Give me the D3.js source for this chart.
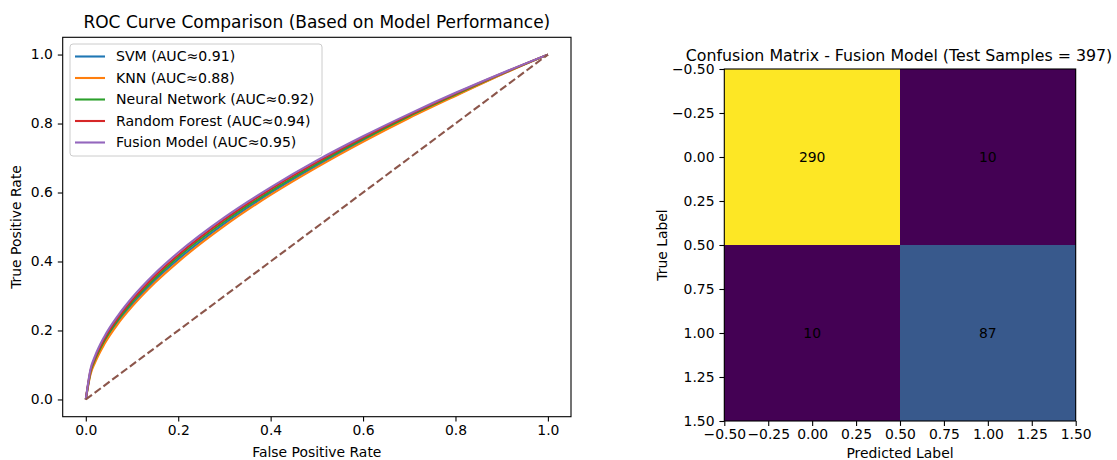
<!DOCTYPE html>
<html>
<head>
<meta charset="utf-8">
<script src="https://cdn.jsdelivr.net/npm/d3@7"></script>
<style>
  body { margin: 0; background: #fff; }
  svg { display: block; font-family: "DejaVu Sans", sans-serif; }
</style>
</head>
<body>
<svg id="chart" width="1117" height="460"></svg>
<script>
// ROC curves (fpr grid shared by all models)
const fprPoints = [0, 0.01, 0.02, 0.04, 0.07, 0.1, 0.15, 0.2, 0.3, 0.4, 0.5, 0.6, 0.7, 0.8, 0.9, 1];
const svmTpr    = [0, 0.076, 0.112, 0.165, 0.226, 0.275, 0.346, 0.406, 0.510, 0.599, 0.678, 0.751, 0.819, 0.882, 0.943, 1];
const knnTpr    = [0, 0.072, 0.107, 0.160, 0.220, 0.269, 0.339, 0.399, 0.503, 0.593, 0.673, 0.747, 0.816, 0.880, 0.942, 1];
const nnTpr     = [0, 0.079, 0.116, 0.170, 0.232, 0.282, 0.352, 0.413, 0.516, 0.604, 0.683, 0.755, 0.822, 0.884, 0.944, 1];
const rfTpr     = [0, 0.083, 0.121, 0.176, 0.238, 0.288, 0.359, 0.419, 0.522, 0.610, 0.688, 0.759, 0.825, 0.887, 0.945, 1];
const fusionTpr = [0, 0.087, 0.126, 0.182, 0.244, 0.295, 0.366, 0.426, 0.528, 0.615, 0.693, 0.763, 0.828, 0.889, 0.946, 1];

const modelNames = ["SVM (AUC≈0.91)", "KNN (AUC≈0.88)", "Neural Network (AUC≈0.92)", "Random Forest (AUC≈0.94)", "Fusion Model (AUC≈0.95)"];
const modelColors = ["#1f77b4", "#ff7f0e", "#2ca02c", "#d62728", "#9467bd"];
const modelTpr = [svmTpr, knnTpr, nnTpr, rfTpr, fusionTpr];

const rocTicks = [0, 0.2, 0.4, 0.6, 0.8, 1.0];

// confusion matrix of the fusion model
const classIdx = [0, 1];
const cmValues = [[290, 10], [10, 87]];
const cmTicks = [-0.5, -0.25, 0, 0.25, 0.5, 0.75, 1, 1.25, 1.5];

const svg = d3.select("#chart");
const fmt1 = d => d3.format(".1f")(d).replace("-", "\u2212");
const fmt2 = d => d3.format(".2f")(d).replace("-", "\u2212");

function styleAxis(g) {
    g.selectAll(".domain").remove();
    g.selectAll(".tick line").attr("stroke", "#000").attr("stroke-width", 1.1);
    g.selectAll(".tick text").attr("fill", "#000").style("font-size", "13.9px").style("font-family", "DejaVu Sans");
}

function frame(g, x0, y0, w, h) {
    g.append("rect")
        .attr("x", x0).attr("y", y0).attr("width", w).attr("height", h)
        .attr("fill", "none").attr("stroke", "#000").attr("stroke-width", 1.1);
}

// ---------------- left: ROC ----------------
const L = {left: 62.7, top: 37.3, right: 571, bottom: 416.7};
const x = d3.scaleLinear().domain([-0.05, 1.05]).range([L.left, L.right]);
const y = d3.scaleLinear().domain([-0.05, 1.05]).range([L.bottom, L.top]);

const left = svg.append("g");

left.append("g")
    .attr("transform", `translate(0,${L.bottom})`)
    .call(d3.axisBottom(x).tickValues(rocTicks).tickFormat(fmt1).tickSize(4.9).tickPadding(3.5))
    .call(styleAxis);
left.append("g")
    .attr("transform", `translate(${L.left},0)`)
    .call(d3.axisLeft(y).tickValues(rocTicks).tickFormat(fmt1).tickSize(4.9).tickPadding(4.9))
    .call(styleAxis);

const line = d3.line()
    .x(d => x(d[0]))
    .y(d => y(d[1]))
    .curve(d3.curveMonotoneX);

modelTpr.forEach((tpr, i) => {
    left.append("path")
        .datum(fprPoints.map((f, j) => [f, tpr[j]]))
        .attr("d", line)
        .attr("fill", "none")
        .attr("stroke", modelColors[i])
        .attr("stroke-width", 2.1)
        .attr("stroke-linejoin", "round");
});

left.append("path")
    .datum([[0, 0], [1, 1]])
    .attr("d", d3.line().x(d => x(d[0])).y(d => y(d[1])))
    .attr("stroke", "#8c564b")
    .attr("stroke-width", 2.1)
    .attr("stroke-dasharray", "7.7,3.3")
    .attr("fill", "none");

frame(left, L.left, L.top, L.right - L.left, L.bottom - L.top);

left.append("text")
    .attr("x", (L.left + L.right) / 2).attr("y", L.top - 9)
    .attr("text-anchor", "middle").style("font-size", "17px")
    .text("ROC Curve Comparison (Based on Model Performance)");
left.append("text")
    .attr("x", (L.left + L.right) / 2).attr("y", 457)
    .attr("text-anchor", "middle").style("font-size", "13.9px")
    .text("False Positive Rate");
left.append("text")
    .attr("transform", `translate(21,${(L.top + L.bottom) / 2}) rotate(-90)`)
    .attr("text-anchor", "middle").style("font-size", "13.9px")
    .text("True Positive Rate");

// legend
const legend = left.append("g").attr("transform", "translate(70,44)");
legend.append("rect")
    .attr("width", 252).attr("height", 112).attr("rx", 3)
    .attr("fill", "#fff").attr("fill-opacity", 0.8)
    .attr("stroke", "#cccccc").attr("stroke-width", 1);
modelNames.forEach((name, i) => {
    const yy = 12.5 + i * 21.5;
    legend.append("line")
        .attr("x1", 5).attr("x2", 35).attr("y1", yy).attr("y2", yy)
        .attr("stroke", modelColors[i]).attr("stroke-width", 2.1);
    legend.append("text")
        .attr("x", 46).attr("y", yy).attr("dy", "0.35em")
        .style("font-size", "14.1px")
        .text(name);
});

// ---------------- right: confusion matrix ----------------
const R = {left: 724.3, top: 69, right: 1075.7, bottom: 421};
const cx = d3.scaleLinear().domain([-0.5, 1.5]).range([R.left, R.right]);
const cy = d3.scaleLinear().domain([-0.5, 1.5]).range([R.top, R.bottom]);
const flat = cmValues.flat();
const color = d3.scaleSequential(d3.interpolateViridis).domain([d3.min(flat), d3.max(flat)]);

const right = svg.append("g");
const cells = [];
classIdx.forEach(r => classIdx.forEach(c => cells.push({r, c, v: cmValues[r][c]})));

right.selectAll("rect.cell")
    .data(cells)
    .join("rect")
    .attr("class", "cell")
    .attr("x", d => cx(d.c - 0.5))
    .attr("y", d => cy(d.r - 0.5))
    .attr("width", cx(0.5) - cx(-0.5))
    .attr("height", cy(0.5) - cy(-0.5))
    .attr("fill", d => color(d.v))
    .attr("shape-rendering", "crispEdges");

right.selectAll("text.val")
    .data(cells)
    .join("text")
    .attr("class", "val")
    .attr("x", d => cx(d.c))
    .attr("y", d => cy(d.r))
    .attr("dy", "0.35em")
    .attr("text-anchor", "middle")
    .style("font-size", "13.9px")
    .text(d => d.v);

right.append("g")
    .attr("transform", `translate(0,${R.bottom})`)
    .call(d3.axisBottom(cx).tickValues(cmTicks).tickFormat(fmt2).tickSize(4.9).tickPadding(3.5))
    .call(styleAxis);
right.append("g")
    .attr("transform", `translate(${R.left},0)`)
    .call(d3.axisLeft(cy).tickValues(cmTicks).tickFormat(fmt2).tickSize(4.9).tickPadding(4.9))
    .call(styleAxis);

frame(right, R.left, R.top, R.right - R.left, R.bottom - R.top);

right.append("text")
    .attr("x", 899).attr("y", R.top - 8)
    .attr("text-anchor", "middle").style("font-size", "15.8px")
    .text("Confusion Matrix - Fusion Model (Test Samples = 397)");
right.append("text")
    .attr("x", (R.left + R.right) / 2).attr("y", 458)
    .attr("text-anchor", "middle").style("font-size", "13.9px")
    .text("Predicted Label");
right.append("text")
    .attr("transform", `translate(667,${(R.top + R.bottom) / 2}) rotate(-90)`)
    .attr("text-anchor", "middle").style("font-size", "13.9px")
    .text("True Label");
</script>
</body>
</html>
